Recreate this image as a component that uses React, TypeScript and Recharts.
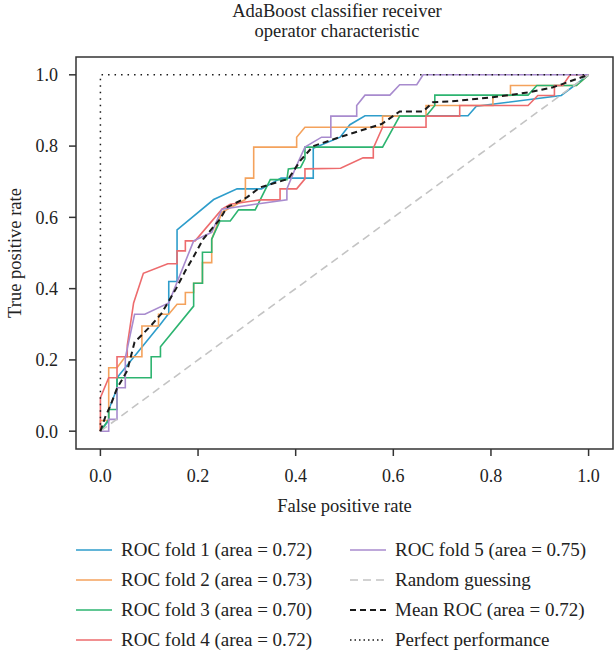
import React from 'react';
import { LineChart, Line, XAxis, YAxis, ReferenceArea, Legend } from 'recharts';

const FONT = "'Liberation Serif', 'Times New Roman', serif";

const titleLines = ['AdaBoost classifier receiver', 'operator characteristic'];
const xLabel = 'False positive rate';
const yLabel = 'True positive rate';
const axisTicks = [0, 0.2, 0.4, 0.6, 0.8, 1.0];

const fold1Fpr = [0, 0.017, 0.017, 0.034, 0.034, 0.123, 0.14, 0.14, 0.157, 0.157, 0.232, 0.28, 0.33, 0.37, 0.436, 0.436, 0.491, 0.511, 0.542, 0.753, 0.77, 0.944, 0.971, 1];
const fold1Tpr = [0, 0.03, 0.06, 0.12, 0.15, 0.30, 0.33, 0.42, 0.42, 0.565, 0.65, 0.68, 0.68, 0.71, 0.71, 0.794, 0.825, 0.86, 0.885, 0.885, 0.912, 0.942, 0.97, 1];

const fold2Fpr = [0, 0, 0.017, 0.017, 0.034, 0.051, 0.085, 0.085, 0.119, 0.119, 0.14, 0.157, 0.174, 0.174, 0.191, 0.191, 0.209, 0.209, 0.228, 0.228, 0.249, 0.297, 0.297, 0.314, 0.314, 0.402, 0.402, 0.419, 0.578, 0.578, 0.667, 0.667, 0.804, 0.804, 0.84, 0.84, 0.975, 1];
const fold2Tpr = [0, 0.03, 0.03, 0.178, 0.178, 0.209, 0.209, 0.295, 0.295, 0.328, 0.328, 0.356, 0.356, 0.389, 0.389, 0.415, 0.415, 0.473, 0.473, 0.539, 0.614, 0.65, 0.71, 0.71, 0.797, 0.797, 0.825, 0.853, 0.853, 0.884, 0.884, 0.914, 0.914, 0.942, 0.942, 0.97, 0.97, 1];

const fold3Fpr = [0, 0.017, 0.017, 0.034, 0.034, 0.104, 0.104, 0.123, 0.123, 0.191, 0.191, 0.209, 0.209, 0.228, 0.228, 0.245, 0.266, 0.283, 0.317, 0.348, 0.382, 0.385, 0.41, 0.419, 0.419, 0.578, 0.613, 0.667, 0.685, 0.685, 0.876, 0.894, 0.975, 1];
const fold3Tpr = [0, 0.033, 0.061, 0.061, 0.15, 0.15, 0.209, 0.209, 0.237, 0.351, 0.415, 0.415, 0.502, 0.502, 0.539, 0.59, 0.59, 0.621, 0.621, 0.706, 0.706, 0.736, 0.74, 0.764, 0.797, 0.797, 0.884, 0.884, 0.914, 0.943, 0.943, 0.97, 0.97, 1];

const fold4Fpr = [0, 0, 0.017, 0.034, 0.034, 0.055, 0.055, 0.068, 0.088, 0.138, 0.157, 0.157, 0.174, 0.174, 0.194, 0.249, 0.266, 0.327, 0.368, 0.368, 0.402, 0.419, 0.419, 0.492, 0.538, 0.559, 0.559, 0.578, 0.667, 0.667, 0.736, 0.736, 0.876, 0.896, 0.93, 0.93, 0.947, 0.962, 1];
const fold4Tpr = [0, 0.094, 0.15, 0.15, 0.209, 0.209, 0.24, 0.36, 0.443, 0.47, 0.47, 0.506, 0.506, 0.534, 0.534, 0.623, 0.637, 0.649, 0.649, 0.68, 0.68, 0.708, 0.736, 0.738, 0.767, 0.767, 0.794, 0.853, 0.853, 0.884, 0.884, 0.914, 0.914, 0.942, 0.942, 0.97, 0.97, 1, 1];

const fold5Fpr = [0, 0.017, 0.017, 0.034, 0.034, 0.051, 0.051, 0.07, 0.091, 0.14, 0.191, 0.228, 0.249, 0.317, 0.382, 0.382, 0.40, 0.419, 0.453, 0.472, 0.472, 0.525, 0.525, 0.542, 0.593, 0.613, 0.648, 0.661, 1];
const fold5Tpr = [0, 0, 0.033, 0.033, 0.122, 0.122, 0.206, 0.328, 0.328, 0.36, 0.534, 0.558, 0.623, 0.637, 0.649, 0.68, 0.74, 0.797, 0.825, 0.825, 0.884, 0.884, 0.914, 0.943, 0.943, 0.972, 0.972, 1, 1];

const meanFpr = [0, 0.01, 0.02, 0.034, 0.055, 0.07, 0.085, 0.106, 0.125, 0.155, 0.174, 0.191, 0.211, 0.245, 0.259, 0.3, 0.327, 0.385, 0.41, 0.436, 0.49, 0.576, 0.613, 0.661, 0.681, 0.716, 0.804, 0.879, 0.927, 1];
const meanTpr = [0, 0.04, 0.07, 0.12, 0.17, 0.25, 0.27, 0.3, 0.33, 0.4, 0.45, 0.49, 0.54, 0.595, 0.628, 0.656, 0.684, 0.708, 0.76, 0.8, 0.825, 0.862, 0.897, 0.897, 0.923, 0.925, 0.937, 0.951, 0.965, 1];

const randomFpr = [0, 1];
const randomTpr = [0, 1];
const perfectFpr = [0, 0, 1];
const perfectTpr = [0, 1, 1];

const toPoints = (fpr: number[], tpr: number[]) => fpr.map((x, i) => ({ x, y: tpr[i] }));

type Series = { name: string; fpr: number[]; tpr: number[]; color: string; width: number; dash?: string };

const series: Series[] = [
  { name: 'ROC fold 1 (area = 0.72)', fpr: fold1Fpr, tpr: fold1Tpr, color: '#2e9dcb', width: 1.6 },
  { name: 'ROC fold 2 (area = 0.73)', fpr: fold2Fpr, tpr: fold2Tpr, color: '#f4a25c', width: 1.6 },
  { name: 'ROC fold 3 (area = 0.70)', fpr: fold3Fpr, tpr: fold3Tpr, color: '#2db470', width: 1.6 },
  { name: 'ROC fold 4 (area = 0.72)', fpr: fold4Fpr, tpr: fold4Tpr, color: '#ed6b6d', width: 1.6 },
  { name: 'ROC fold 5 (area = 0.75)', fpr: fold5Fpr, tpr: fold5Tpr, color: '#a88bce', width: 1.6 },
  { name: 'Random guessing', fpr: randomFpr, tpr: randomTpr, color: '#c4c4c4', width: 1.6, dash: '8 5' },
  { name: 'Mean ROC (area = 0.72)', fpr: meanFpr, tpr: meanTpr, color: '#1a1a1a', width: 2, dash: '6 4' },
  { name: 'Perfect performance', fpr: perfectFpr, tpr: perfectTpr, color: '#1a1a1a', width: 1.5, dash: '1.5 5' },
];

const legendOrder = [0, 4, 1, 5, 2, 6, 3, 7];

const renderLegend = () => (
  <div style={{ position: 'relative', width: 614, height: 123, fontFamily: FONT, fontSize: 19, color: '#222' }}>
    {legendOrder.map((idx, k) => {
      const s = series[idx];
      const row = Math.floor(k / 2);
      const col = k % 2;
      const left = col === 0 ? 76 : 350;
      const top = 20 + row * 30 - 12;
      return (
        <div key={s.name} style={{ position: 'absolute', left, top, height: 24, display: 'flex', alignItems: 'center', whiteSpace: 'nowrap' }}>
          <svg width={36} height={10} style={{ marginRight: 9 }}>
            <line x1={0} y1={5} x2={36} y2={5} stroke={s.color} strokeWidth={s.width} strokeDasharray={s.dash ? (idx === 7 ? '1.5 3' : s.dash) : undefined} />
          </svg>
          <span>{s.name}</span>
        </div>
      );
    })}
  </div>
);

export default function App() {
  return (
    <div style={{ position: 'absolute', left: 0, top: 0, width: 614, height: 653, background: '#fff' }}>
      <div style={{ position: 'absolute', left: 0, top: 1, width: 674, textAlign: 'center', fontFamily: FONT, fontSize: 18.5, lineHeight: '20px', color: '#222' }}>
        {titleLines.map((t) => (
          <div key={t}>{t}</div>
        ))}
      </div>
      <LineChart width={614} height={653} margin={{ top: 57, right: 1, bottom: 159, left: 0 }}>
        <XAxis
          type="number"
          dataKey="x"
          domain={[-0.05, 1.05]}
          ticks={axisTicks}
          allowDataOverflow
          tickFormatter={(v: number) => v.toFixed(1)}
          tickSize={7}
          tickMargin={13}
          axisLine={false}
          tickLine={{ stroke: '#333', strokeWidth: 1.5 }}
          tick={{ fill: '#222', fontSize: 18, fontFamily: FONT }}
          height={45}
          label={{ value: xLabel, position: 'insideBottom', offset: -18, style: { fill: '#222', fontSize: 18.5, fontFamily: FONT } }}
        />
        <YAxis
          type="number"
          dataKey="y"
          domain={[-0.05, 1.05]}
          ticks={axisTicks}
          allowDataOverflow
          tickFormatter={(v: number) => v.toFixed(1)}
          tickSize={7}
          tickMargin={11}
          axisLine={false}
          tickLine={{ stroke: '#333', strokeWidth: 1.5 }}
          tick={{ fill: '#222', fontSize: 18, fontFamily: FONT }}
          width={76}
          label={{ value: yLabel, angle: -90, position: 'insideLeft', offset: 14, style: { textAnchor: 'middle', fill: '#222', fontSize: 18.5, fontFamily: FONT } }}
        />
        <ReferenceArea x1={-0.05} x2={1.05} y1={-0.05} y2={1.05} fill="none" stroke="#333" strokeWidth={1.5} ifOverflow="visible" />
        {series.map((s) => (
          <Line
            key={s.name}
            name={s.name}
            data={toPoints(s.fpr, s.tpr)}
            dataKey="y"
            type="linear"
            stroke={s.color}
            strokeWidth={s.width}
            strokeDasharray={s.dash}
            dot={false}
            activeDot={false}
            isAnimationActive={false}
          />
        ))}
        <Legend content={renderLegend} verticalAlign="middle" align="center" wrapperStyle={{ left: 0, top: 530, width: 614, height: 123 }} />
      </LineChart>
    </div>
  );
}
